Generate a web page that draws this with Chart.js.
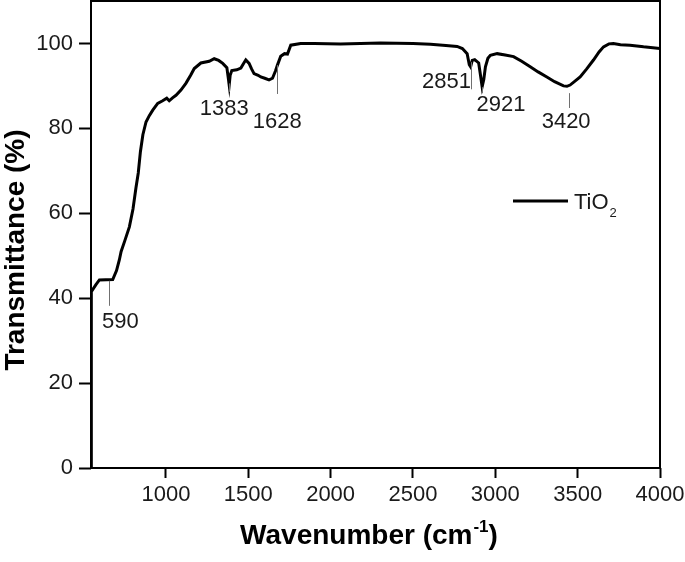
<!DOCTYPE html>
<html>
<head>
<meta charset="utf-8">
<script src="https://cdn.jsdelivr.net/npm/chart.js@4.4.1/dist/chart.umd.min.js"></script>
<style>
  html, body { margin: 0; padding: 0; background: #fff; }
  #wrap { width: 685px; height: 562px; position: relative; }
</style>
</head>
<body>
<div id="wrap"><canvas id="c" width="685" height="562"></canvas></div>
<script>
// ---- data ----
const wavenumber = [545, 547, 575, 596, 677, 700, 717, 728, 750, 778, 800, 818, 832, 845, 860, 879, 899, 920, 950, 980, 1005, 1020, 1040, 1061, 1091, 1121, 1150, 1172, 1212, 1263, 1293, 1320, 1345, 1370, 1378, 1384, 1390, 1400, 1430, 1455, 1475, 1485, 1505, 1520, 1535, 1560, 1576, 1600, 1626, 1647, 1665, 1677, 1697, 1720, 1738, 1758, 1818, 1900, 2060, 2303, 2500, 2606, 2700, 2768, 2800, 2829, 2842, 2850, 2860, 2875, 2899, 2910, 2920, 2930, 2940, 2955, 2970, 3011, 3060, 3111, 3160, 3212, 3260, 3313, 3360, 3414, 3435, 3454, 3480, 3515, 3555, 3596, 3630, 3657, 3690, 3717, 3760, 3818, 3900, 4000];
const transmittance = [0, 41.5, 43.2, 44.3, 44.4, 46.5, 49.0, 51.0, 53.5, 56.8, 61.0, 66.0, 69.5, 74.5, 78.5, 81.5, 83.0, 84.3, 85.9, 86.5, 87.1, 86.5, 87.2, 87.8, 89.0, 90.6, 92.5, 94.1, 95.4, 95.8, 96.4, 96.0, 95.3, 94.3, 92.0, 90.2, 92.5, 93.6, 93.8, 94.2, 95.5, 96.1, 95.3, 94.0, 92.9, 92.5, 92.1, 91.8, 91.4, 91.8, 93.5, 94.9, 97.0, 97.6, 97.5, 99.6, 100, 100, 99.9, 100.1, 100, 99.8, 99.5, 99.3, 98.8, 97.6, 95.0, 94.5, 96.0, 96.2, 95.4, 92.5, 89.8, 91.5, 94.5, 96.5, 97.2, 97.6, 97.3, 96.9, 95.8, 94.5, 93.3, 92.1, 91.0, 90.0, 89.9, 90.2, 91.0, 92.1, 94.0, 96.1, 98.0, 99.2, 99.9, 100, 99.7, 99.6, 99.2, 98.8];
const xTickValues = [1000, 1500, 2000, 2500, 3000, 3500, 4000];
const yTickValues = [0, 20, 40, 60, 80, 100];
const peakLabels = ['590', '1383', '1628', '2851', '2921', '3420'];
const seriesName = ['TiO', '2'];
const xTitle = ['Wavenumber (cm', '-1', ')'];
const yTitle = 'Transmittance (%)';

// ---- annotation layout (in axis units) ----
const peakLayout = [
  { lx: 652,  y1: 44.1, y2: 38.2, tx: 723,  ty: 33.0 },
  { lx: 1380, y1: 90.6, y2: 88.6, tx: 1354, ty: 83.2 },
  { lx: 1674, y1: 94.9, y2: 88.1, tx: 1676, ty: 80.1 },
  { lx: 2853, y1: 95.6, y2: 89.2, tx: 2703, ty: 89.4 },
  { lx: 2922, y1: 89.7, y2: 88.3, tx: 3035, ty: 84.1 },
  { lx: 3448, y1: 88.3, y2: 84.8, tx: 3430, ty: 80.0 }
];

const FONT = "'Liberation Sans', Arial, Helvetica, sans-serif";
Chart.defaults.font.family = FONT;
Chart.defaults.color = '#1a1a1a';

const points = wavenumber.map((w, i) => ({ x: w, y: transmittance[i] }));

const decor = {
  id: 'decor',
  afterDraw(chart) {
    const { ctx, chartArea: a, scales: { x, y } } = chart;
    ctx.save();
    // frame
    ctx.strokeStyle = '#000';
    ctx.lineWidth = 2;
    ctx.strokeRect(a.left, a.top, a.right - a.left, a.bottom - a.top);

    // peak markers
    ctx.strokeStyle = '#707070';
    ctx.lineWidth = 1;
    ctx.fillStyle = '#1a1a1a';
    ctx.font = '22px ' + FONT;
    ctx.textAlign = 'center';
    ctx.textBaseline = 'alphabetic';
    peakLayout.forEach((p, i) => {
      const px = Math.round(x.getPixelForValue(p.lx)) + 0.5;
      ctx.beginPath();
      ctx.moveTo(px, y.getPixelForValue(p.y1));
      ctx.lineTo(px, y.getPixelForValue(p.y2));
      ctx.stroke();
      ctx.fillText(peakLabels[i], x.getPixelForValue(p.tx), y.getPixelForValue(p.ty));
    });

    // legend
    const lx0 = 513, lx1 = 568, ly = 201;
    ctx.strokeStyle = '#000';
    ctx.lineWidth = 3;
    ctx.beginPath();
    ctx.moveTo(lx0, ly);
    ctx.lineTo(lx1, ly);
    ctx.stroke();
    ctx.textAlign = 'left';
    ctx.font = '22px ' + FONT;
    ctx.fillText(seriesName[0], 574, 209);
    const wBase = ctx.measureText(seriesName[0]).width;
    ctx.font = '13px ' + FONT;
    ctx.fillText(seriesName[1], 574 + wBase + 1, 217);

    // x title with superscript
    const big = 'bold 28px ' + FONT, small = 'bold 17px ' + FONT;
    ctx.font = big;
    const w1 = ctx.measureText(xTitle[0]).width;
    const w3 = ctx.measureText(xTitle[2]).width;
    ctx.font = small;
    const w2 = ctx.measureText(xTitle[1]).width;
    const total = w1 + w2 + w3 + 1;
    let sx = 369 - total / 2;
    const base = 544;
    ctx.fillStyle = '#000';
    ctx.font = big;
    ctx.fillText(xTitle[0], sx, base);
    sx += w1 + 1;
    ctx.font = small;
    ctx.fillText(xTitle[1], sx, base - 12);
    sx += w2;
    ctx.font = big;
    ctx.fillText(xTitle[2], sx, base);

    // y title
    ctx.translate(24, 250);
    ctx.rotate(-Math.PI / 2);
    ctx.textAlign = 'center';
    ctx.textBaseline = 'alphabetic';
    ctx.font = big;
    ctx.fillText(yTitle, 0, 0);
    ctx.restore();
  }
};

const noPad = s => { s.paddingLeft = 0; s.paddingRight = 0; s.paddingTop = 0; s.paddingBottom = 0; };

new Chart(document.getElementById('c'), {
  type: 'line',
  data: {
    datasets: [{
      label: seriesName.join(''),
      data: points,
      borderColor: '#000',
      borderWidth: 3,
      pointRadius: 0,
      tension: 0,
      fill: false
    }]
  },
  options: {
    responsive: false,
    animation: false,
    layout: { padding: { left: 0, right: 25, top: 1, bottom: 0 } },
    plugins: { legend: { display: false }, tooltip: { enabled: false } },
    scales: {
      x: {
        type: 'linear',
        min: 545,
        max: 4000,
        afterBuildTicks: s => { s.ticks = xTickValues.map(v => ({ value: v })); },
        afterFit: s => { s.height = 94; noPad(s); },
        grid: { drawOnChartArea: false, drawTicks: true, tickLength: 10, tickColor: '#000', tickWidth: 2 },
        border: { display: false },
        ticks: { font: { size: 22 }, color: '#1a1a1a', padding: 4, maxRotation: 0, autoSkip: false, callback: v => String(v) }
      },
      y: {
        min: 0,
        max: 110,
        afterBuildTicks: s => { s.ticks = yTickValues.map(v => ({ value: v })); },
        afterFit: s => { s.width = 91; noPad(s); },
        grid: { drawOnChartArea: false, drawTicks: true, tickLength: 12, tickColor: '#000', tickWidth: 2 },
        border: { display: false },
        ticks: { font: { size: 22 }, color: '#1a1a1a', padding: 6, autoSkip: false, callback: v => String(v) }
      }
    }
  },
  plugins: [decor]
});
</script>
</body>
</html>
